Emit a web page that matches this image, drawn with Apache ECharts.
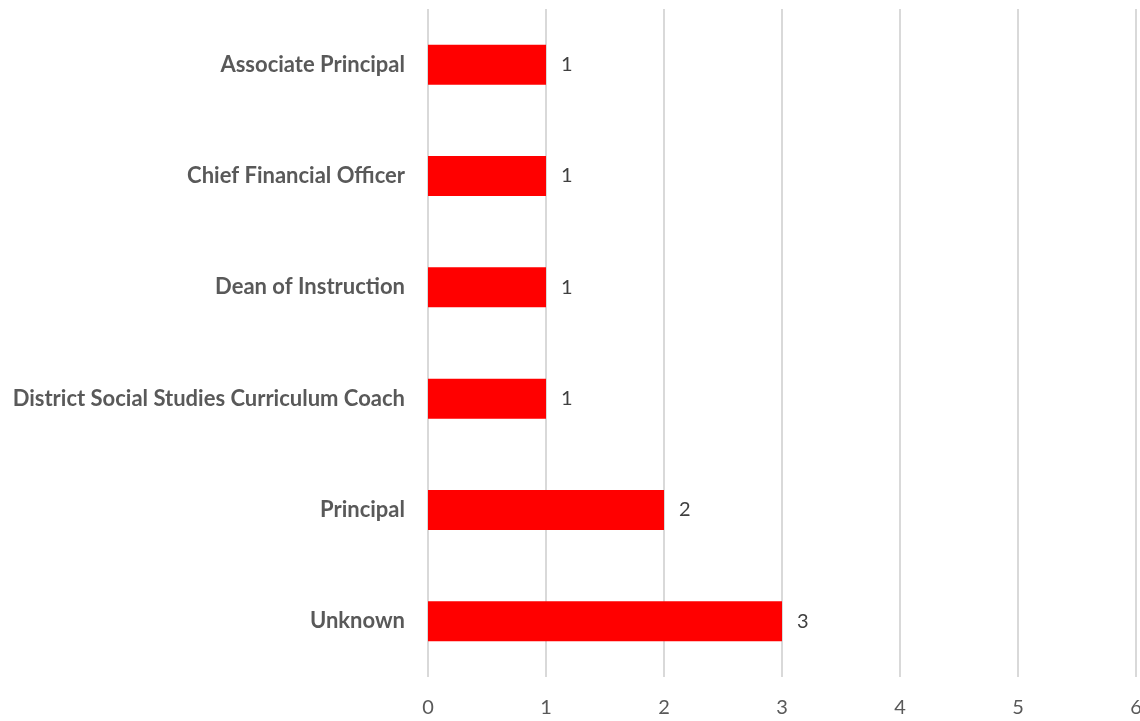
<!DOCTYPE html>
<html>
<head>
  <meta charset="UTF-8">
  <title>Roles</title>
  <style>
    * { margin:0; padding:0; }
    body { background:#fff; }
    #chart { width:1140px; height:721px; }
  </style>
  <script src="https://cdn.jsdelivr.net/npm/echarts@6/dist/echarts.min.js"></script>
</head>
<body>
  <div id="chart"></div>
  <script>
    // top to bottom, as in the picture
    const roles = ['Associate Principal', 'Chief Financial Officer', 'Dean of Instruction',
                   'District Social Studies Curriculum Coach', 'Principal', 'Unknown'];
    const counts = [1, 1, 1, 1, 2, 3];

    const chart = echarts.init(document.getElementById('chart'));
    chart.setOption({
      animation: false,
      grid: { left: 428, right: 4, top: 9, bottom: 44, outerBoundsMode: 'none', containLabel: false },
      xAxis: {
        type: 'value', min: 0, max: 6, interval: 1,
        axisLine: { show: false },
        axisTick: { show: false },
        splitLine: { lineStyle: { color: '#d9d9d9', width: 2 } },
        axisLabel: { color: '#595959', fontFamily: 'Lato', fontSize: 20, margin: 21 }
      },
      yAxis: {
        type: 'category', data: roles, inverse: true,
        axisLine: { show: false },
        axisTick: { show: false },
        axisLabel: { color: '#595959', fontFamily: 'Lato', fontWeight: 'bold', fontSize: 22, margin: 23 }
      },
      series: [{
        type: 'bar',
        data: counts,
        barWidth: 40,
        itemStyle: { color: '#ff0000' },
        label: { show: true, position: 'right', distance: 15, color: '#404040', fontFamily: 'Lato', fontSize: 20 }
      }]
    });
  </script>
</body>
</html>
